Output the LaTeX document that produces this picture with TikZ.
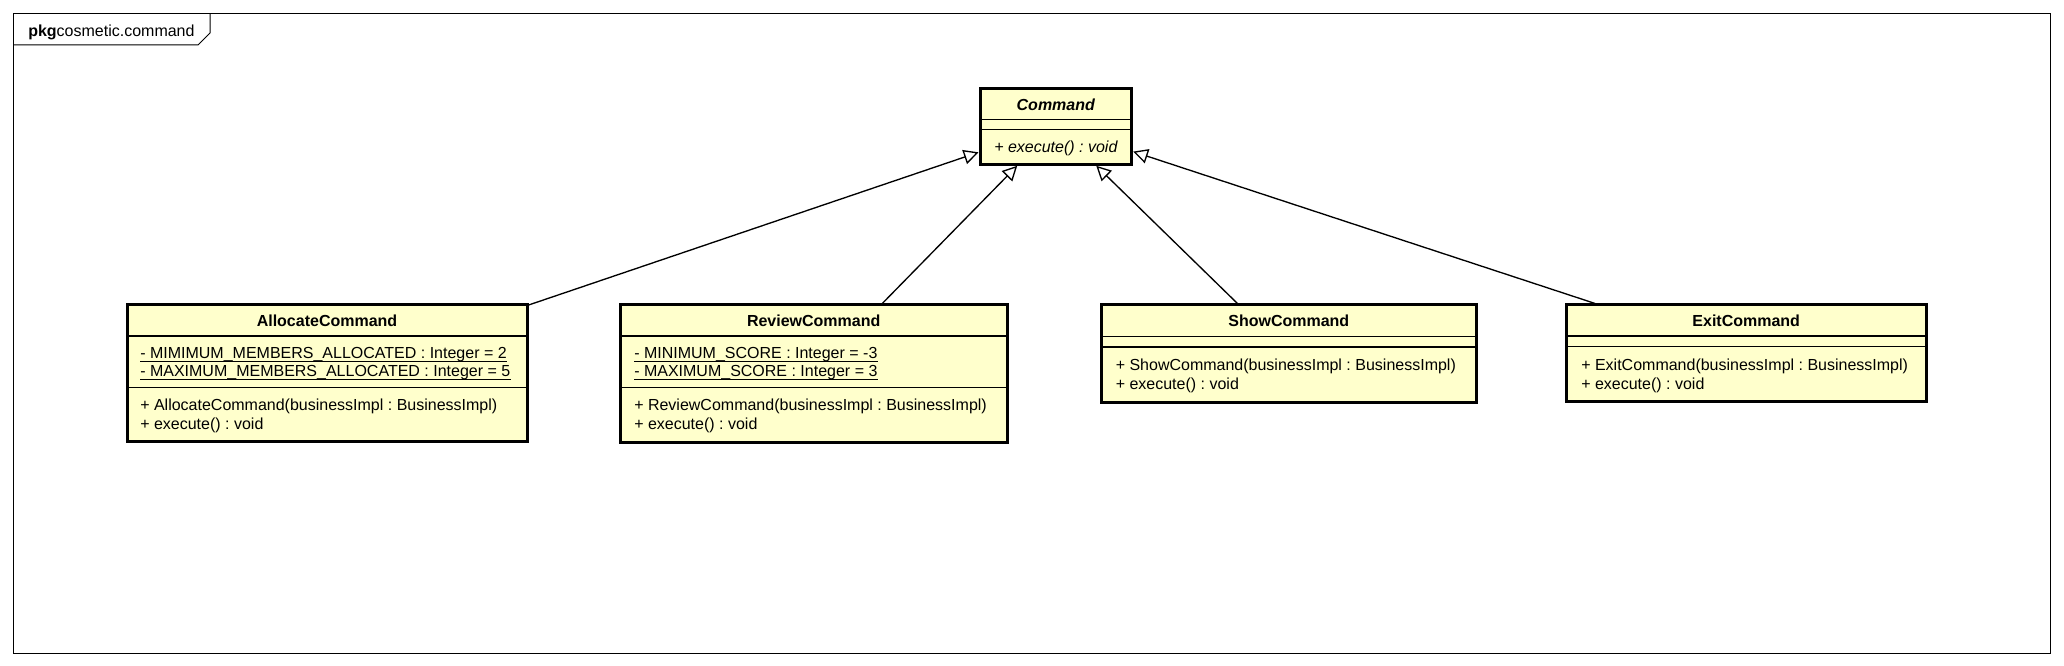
\documentclass[tikz,border=0pt]{standalone}
\usepackage{fontspec}
\setmainfont{Liberation Sans}
\usetikzlibrary{arrows.meta,fit}
\definecolor{clsfill}{HTML}{FFFFCC}
\frenchspacing
\begin{document}
\begin{tikzpicture}[x=0.75pt,y=-0.75pt,
  cls/.style={draw, line width=2.25pt, fill=clsfill, inner sep=0pt},
  sepline/.style={line width=0.9pt},
  txt/.style={anchor=base west, inner sep=0pt, font=\fontsize{12pt}{14pt}\selectfont},
  itxt/.style={anchor=base west, inner sep=0pt, font=\fontsize{12pt}{14pt}\selectfont\itshape},
  ttl/.style={anchor=base, inner sep=0pt, font=\fontsize{12pt}{14pt}\selectfont\bfseries},
  ittl/.style={anchor=base, inner sep=0pt, font=\fontsize{12pt}{14pt}\selectfont\bfseries\itshape},
  gen/.style={line width=1pt, -{Triangle[open, length=11pt, width=11pt]}},
  ul/.style={line width=0.75pt},
  frameline/.style={line width=0.75pt}]
\useasboundingbox (0,0) rectangle (2064,666);
% package frame
\draw[frameline] (13,14) rectangle (2050,653);
\draw[frameline] (13,45) -- (198,45) -- (210,33) -- (210,14);
\node[txt] (pkg) at (28,37) {\textbf{pkg}cosmetic.command};

% Command
\node[cls, fit={(980,88.3) (1131.7,164.3)}] (cmd) {};
\draw[sepline] (980,119.3) -- (1131.7,119.3);
\draw[sepline] (980,129.3) -- (1131.7,129.3);
\node[ittl] (cmdt) at (1055.8,110.7) {Command};
\node[itxt] (cmdm) at (994,152.5) {+ execute() : void};

% AllocateCommand
\node[cls, fit={(127,305) (527,441.7)}] (alloc) {};
\draw[sepline] (127,336) -- (527,336);
\draw[sepline] (127,387.3) -- (527,387.3);
\node[ttl] (alloct) at (327,327) {AllocateCommand};
\node[txt] (alloca1) at (140,358.4) {- MIMIMUM\_MEMBERS\_ALLOCATED : Integer = 2};
\node[txt] (alloca2) at (140,377) {- MAXIMUM\_MEMBERS\_ALLOCATED : Integer = 5};
\draw[ul] ([yshift=-2.2pt]alloca1.base west) -- ([yshift=-2.2pt]alloca1.base east);
\draw[ul] ([yshift=-2.2pt]alloca2.base west) -- ([yshift=-2.2pt]alloca2.base east);
\node[txt] (allocm1) at (140,410.7) {+ AllocateCommand(businessImpl : BusinessImpl)};
\node[txt] (allocm2) at (140,429.3) {+ execute() : void};

% ReviewCommand
\node[cls, fit={(620,305) (1007.3,442.3)}] (rev) {};
\draw[sepline] (620,336) -- (1007.3,336);
\draw[sepline] (620,387.3) -- (1007.3,387.3);
\node[ttl] (revt) at (813.7,327) {ReviewCommand};
\node[txt] (reva1) at (634,358.4) {- MINIMUM\_SCORE : Integer = -3};
\node[txt] (reva2) at (634,377) {- MAXIMUM\_SCORE : Integer = 3};
\draw[ul] ([yshift=-2.2pt]reva1.base west) -- ([yshift=-2.2pt]reva1.base east);
\draw[ul] ([yshift=-2.2pt]reva2.base west) -- ([yshift=-2.2pt]reva2.base east);
\node[txt] (revm1) at (634,410.7) {+ ReviewCommand(businessImpl : BusinessImpl)};
\node[txt] (revm2) at (634,429.3) {+ execute() : void};

% ShowCommand
\node[cls, fit={(1101.7,305) (1476,402.3)}] (show) {};
\draw[sepline] (1101.7,336.3) -- (1476,336.3);
\draw[sepline] (1101.7,347) -- (1476,347);
\node[ttl] (showt) at (1288.8,327) {ShowCommand};
\node[txt] (showm1) at (1115.5,371) {+ ShowCommand(businessImpl : BusinessImpl)};
\node[txt] (showm2) at (1115.5,389.6) {+ execute() : void};

% ExitCommand
\node[cls, fit={(1566.5,305) (1926,401.5)}] (exit) {};
\draw[sepline] (1566.5,336) -- (1926,336);
\draw[sepline] (1566.5,346.7) -- (1926,346.7);
\node[ttl] (exitt) at (1746.2,327) {ExitCommand};
\node[txt] (exitm1) at (1581,370.7) {+ ExitCommand(businessImpl : BusinessImpl)};
\node[txt] (exitm2) at (1581,389.3) {+ execute() : void};

% generalizations
\draw[gen] (alloc) -- (cmd);
\draw[gen] (rev) -- (cmd);
\draw[gen] (show) -- (cmd);
\draw[gen] (exit) -- (cmd);
\end{tikzpicture}
\end{document}
